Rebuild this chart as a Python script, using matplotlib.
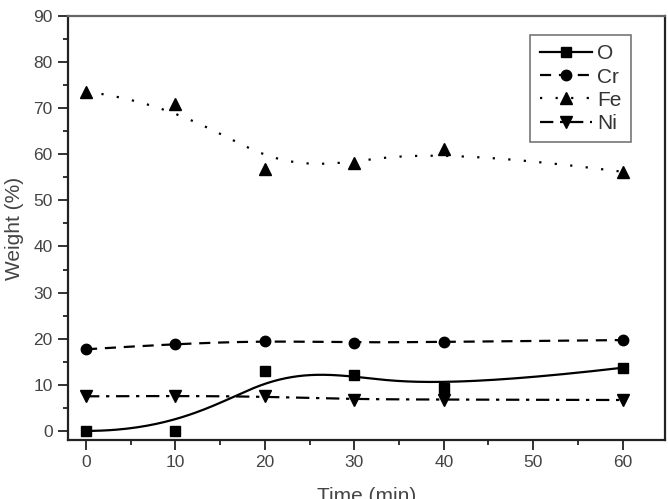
import numpy as np
import matplotlib.pyplot as plt

plt.rcParams['font.family'] = ['Liberation Sans', 'DejaVu Sans']

time = [0, 10, 20, 30, 40, 60]
o_wt = [0, 0, 13, 12.2, 9.2, 13.7]
cr_wt = [17.7, 18.9, 19.6, 19.1, 19.3, 19.7]
fe_wt = [73.6, 71.0, 56.8, 58.1, 61.2, 56.2]
ni_wt = [7.5, 7.6, 7.5, 6.8, 6.8, 6.7]


def bspline(xs, ys, n=200, k=3):
    # clamped B-spline with the data points as control points (Origin style)
    pts = np.column_stack([xs, ys]).astype(float)
    m = len(pts)
    inner = np.linspace(0, 1, m - k + 1)[1:-1]
    knots = np.concatenate([np.zeros(k + 1), inner, np.ones(k + 1)])
    u = np.linspace(0, 1 - 1e-9, n)
    N = np.zeros((n, len(knots) - 1))
    for i in range(len(knots) - 1):
        N[:, i] = (u >= knots[i]) & (u < knots[i + 1])
    for d in range(1, k + 1):
        Nn = np.zeros((n, len(knots) - 1 - d))
        for i in range(len(knots) - 1 - d):
            a = knots[i + d] - knots[i]
            b = knots[i + d + 1] - knots[i + 1]
            t1 = (u - knots[i]) / a * N[:, i] if a > 0 else 0
            t2 = (knots[i + d + 1] - u) / b * N[:, i + 1] if b > 0 else 0
            Nn[:, i] = t1 + t2
        N = Nn
    c = N @ pts
    c[-1] = pts[-1]
    return c[:, 0], c[:, 1]


fig = plt.figure(figsize=(6.68, 4.99), dpi=100)
ax = fig.add_axes([0.102, 0.118, 0.893, 0.85])

series = [
    ('O', o_wt, 's', '-', 7),
    ('Cr', cr_wt, 'o', (0, (5, 3.5)), 7.5),
    ('Fe', fe_wt, '^', (0, (1, 6)), 8),
    ('Ni', ni_wt, 'v', (0, (6, 3, 1.5, 3)), 8),
]
handles = []
for name, vals, mk, ls, ms in series:
    cx, cy = bspline(time, vals)
    ax.plot(cx, cy, color='black', ls=ls, lw=1.6)
    ax.plot(time, vals, ls='none', marker=mk, color='black', ms=ms)
    h, = ax.plot([], [], color='black', ls=ls, lw=1.6, marker=mk, ms=ms, label=name)
    handles.append(h)

ax.set_xlim(-2, 64.7)
ax.set_ylim(-2, 90)
ax.set_xticks(range(0, 61, 10))
ax.set_xticks(range(5, 61, 10), minor=True)
ax.set_yticks(range(0, 91, 10))
ax.set_yticks(range(5, 91, 10), minor=True)
ax.tick_params(which='major', length=7, width=1.4, color='#333333', labelcolor='#444444',
               labelsize=12.5, direction='out', pad=4)
ax.tick_params(which='minor', length=3.5, width=1.4, color='#333333', direction='out')

for s in ['left', 'bottom', 'right']:
    ax.spines[s].set_linewidth(1.6)
    ax.spines[s].set_color('#222222')
ax.spines['top'].set_linewidth(1.6)
ax.spines['top'].set_color('#666666')

ax.set_xlabel('Time (min)', fontsize=15, color='#444444', labelpad=12)
ax.set_ylabel('Weight (%)', fontsize=15, color='#444444', labelpad=7)

leg = ax.legend(handles=handles, loc='upper right', bbox_to_anchor=(0.943, 0.955),
                borderaxespad=0, fontsize=15, frameon=True, fancybox=False,
                handlelength=2.5, handletextpad=0.25, borderpad=0.45, labelspacing=0.2)
leg.get_frame().set_edgecolor('#555555')
leg.get_frame().set_linewidth(1.2)
for t in leg.get_texts():
    t.set_color('#333333')

fig.savefig('out.png', dpi=100)
